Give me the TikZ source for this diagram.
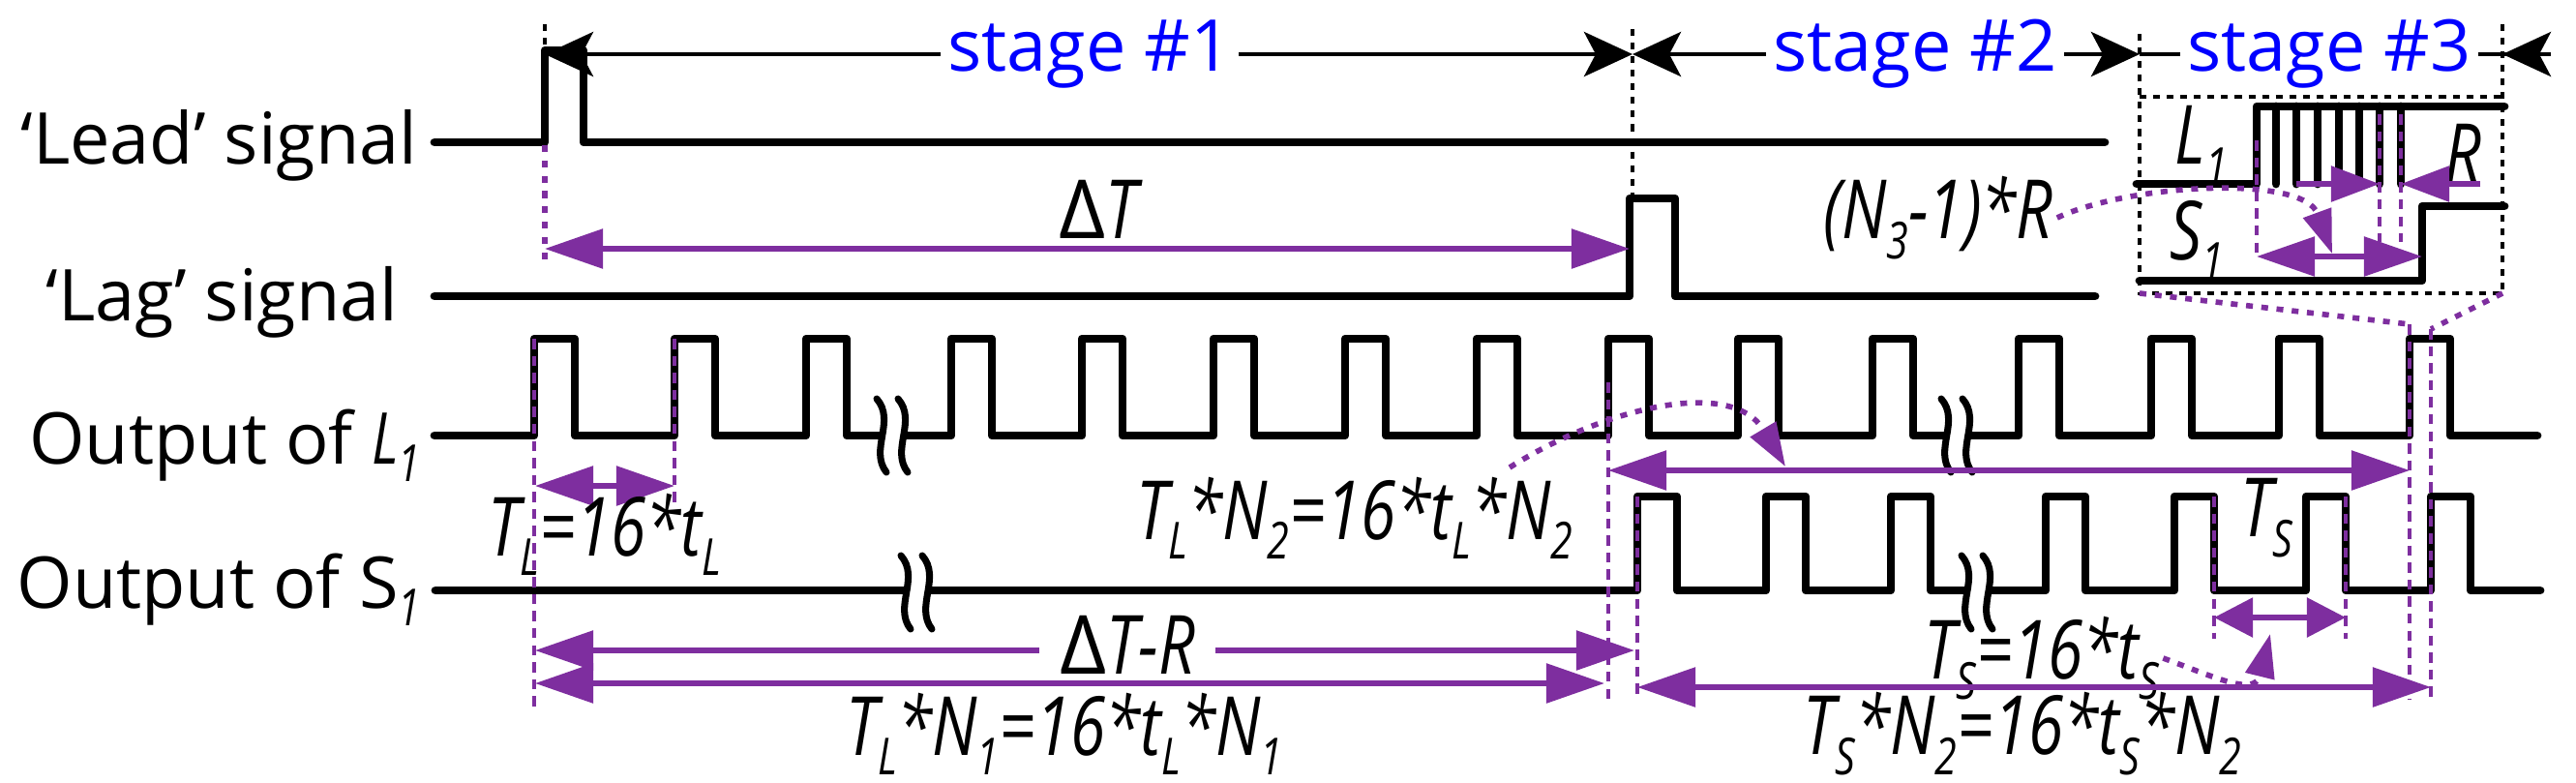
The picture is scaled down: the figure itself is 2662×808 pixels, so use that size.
\documentclass[tikz,border=0pt]{standalone}
\usepackage{fontspec}
\setmainfont{Open Sans}
\usetikzlibrary{arrows.meta}
\definecolor{pur}{RGB}{126,46,159}
\definecolor{stgblue}{RGB}{0,0,255}
\newcommand{\lbl}[1]{\scalebox{0.78}[1]{\itshape #1}}
\newcommand{\sbs}[1]{\raisebox{-0.45ex}{\fontsize{15}{16}\selectfont #1}}
\tikzset{
 sig/.style={line width=2.5pt, line join=round, line cap=round},
 blkdot/.style={line width=1.3pt, dash pattern=on 2pt off 2pt},
 pdash/.style={pur, line width=1pt, dash pattern=on 3pt off 2pt},
 pdot/.style={pur, line width=1.6pt, dash pattern=on 2pt off 2.5pt},
 parr/.style={pur, line width=1.6pt, {Triangle[length=0.6cm,width=0.4cm]}-{Triangle[length=0.6cm,width=0.4cm]}},
 parrs/.style={pur, line width=1.6pt, -{Triangle[length=0.5cm,width=0.36cm]}},
 stg/.style={line width=1.3pt, -{Stealth[length=0.5cm,width=0.46cm,inset=0.12cm]}},
 stext/.style={text=stgblue, font=\fontsize{21}{23}\selectfont, inner sep=2pt},
 sname/.style={font=\fontsize{21}{24}\selectfont, anchor=east, inner sep=0pt},
 mlab/.style={font=\fontsize{24}{26}\selectfont, inner sep=1pt},
}
\newcommand{\brk}[2]{%
 \fill[white] (#1-16,#2-38) .. controls (#1+4,#2-15) and (#1-24,#2+15) .. (#1-6,#2+38)
   -- (#1+16,#2+38) .. controls (#1-2,#2+15) and (#1+26,#2-15) .. (#1+6,#2-38) -- cycle;
 \draw[line width=2pt,line cap=round] (#1-16,#2-38) .. controls (#1+4,#2-15) and (#1-24,#2+15) .. (#1-6,#2+38);
 \draw[line width=2pt,line cap=round] (#1+6,#2-38) .. controls (#1+26,#2-15) and (#1-2,#2+15) .. (#1+16,#2+38);}
\begin{document}
\begin{tikzpicture}[x=0.01cm,y=-0.01cm]
\useasboundingbox (0,0) rectangle (2662,808);
% labels
\node[sname] (lead) at (432,150) {‘Lead’ signal};
\node[sname] (lag) at (412,312) {‘Lag’ signal};
\node[sname] (ol) at (435,460) {Output of \lbl{L\sbs{1}}};
\node[sname] (os) at (435,609) {Output of S\lbl{\sbs{1}}};
% signals
\draw[sig] (449,147) -- (563,147) -- (563,52) -- (603,52) -- (603,147) -- (2175,147);
\draw[sig] (449,306) -- (1684,306) -- (1684,205) -- (1731,205) -- (1731,306) -- (2165,306);
\draw[sig] (449,450) \foreach \r in {552,697,833,983,1118,1254,1390,1526,1662,1796,1935,2086,2223,2355,2490}{ -- (\r,450) -- (\r,350) -- (\r+42,350) -- (\r+42,450)} -- (2622,450);
\draw[sig] (450,610) \foreach \r in {1692,1825,1954,2114,2247,2383,2512}{ -- (\r,610) -- (\r,513) -- (\r+41,513) -- (\r+41,610)} -- (2625,610);
\brk{922}{450} \brk{2022}{450} \brk{947}{612} \brk{2043}{612}
% stage marks
\draw[blkdot] (563,25) -- (563,145);
\draw[blkdot] (1687,30) -- (1687,203);
\draw[blkdot] (2211,35) -- (2211,303) -- (2586,303) -- (2586,25);
\draw[blkdot] (2211,100) -- (2586,100);
\node[stext] (t1) at (1126,56) {stage \#1};
\node[stext] (t2) at (1979,56) {stage \#2};
\node[stext] (t3) at (2407,56) {stage \#3};
\coordinate (s1a) at (563,56); \coordinate (s1b) at (1687,56);
\coordinate (s2b) at (2211,56); \coordinate (s3b) at (2586,56); \coordinate (s3e) at (2636,56);
\draw[stg] (t1.west) -- (s1a); \draw[stg] (t1.east) -- (s1b);
\draw[stg] (t2.west) -- (s1b); \draw[stg] (t2.east) -- (s2b);
\draw[line width=1.3pt] (t3.west) -- (s2b); \draw[line width=1.3pt] (t3.east) -- (s3e);
\draw[stg] (s3e) -- (s3b);
% inset
\draw[sig] (2208,190) -- (2332,190) -- (2332,110) -- (2588,110);
\foreach \b in {2352,2373,2395,2417,2438,2459,2481}{\draw[sig] (\b,110) -- (\b,190);}
\draw[sig] (2211,290) -- (2503,290) -- (2503,213) -- (2588,213);
\node[mlab] (iL) at (2275,150) {\lbl{L\sbs{1}}};
\node[mlab] (iS) at (2270,248) {\lbl{S\sbs{1}}};
\node[mlab] (iR) at (2545,158) {\lbl{R}};
\draw[pdash] (2332,145) -- (2332,265);
\draw[pdash] (2459,118) -- (2459,250);
\draw[pdash] (2481,118) -- (2481,250);
\coordinate (ia) at (2373,190); \coordinate (ib) at (2459,190);
\coordinate (ic) at (2563,190); \coordinate (id) at (2481,190);
\draw[parrs] (ia) -- (ib); \draw[parrs] (ic) -- (id);
\coordinate (iu) at (2332,265); \coordinate (iv) at (2503,265);
\draw[parr] (iu) -- (iv);
\node[mlab] (n3) at (2003,225) {\lbl{(N\sbs{3}-1)*R}};
\coordinate (n3t) at (2410,262);
\draw[pdot, -{Triangle[length=0.45cm,width=0.3cm]}] (n3.east) .. controls (2200,190) and (2380,180) .. (n3t);
% zoom lines
\draw[pdot] (2211,303) -- (2490,335);
\draw[pdot] (2586,303) -- (2512,340);
% delta T
\draw[pdot] (563,150) -- (563,270);
\coordinate (dta) at (563,257); \coordinate (dtb) at (1684,257);
\draw[parr] (dta) -- (dtb);
\node[mlab] (dt) at (1135,216) {Δ\lbl{T}};
% verticals
\draw[pdash] (552,350) -- (552,735);
\draw[pdash] (697,350) -- (697,520);
\draw[pdash] (1662,395) -- (1662,722);
\draw[pdash] (1692,513) -- (1692,722);
\draw[pdash] (2288,513) -- (2288,660);
\draw[pdash] (2424,513) -- (2424,660);
\draw[pdash] (2490,335) -- (2490,722);
\draw[pdash] (2512,340) -- (2512,722);
% T_L
\coordinate (tla) at (553,502); \coordinate (tlb) at (697,502);
\draw[parr] (tla) -- (tlb);
\node[mlab] (tl) at (625,552) {\lbl{T\sbs{L}=16*t\sbs{L}}};
\node[mlab] (tln2) at (1400,535) {\lbl{T\sbs{L}*N\sbs{2}=16*t\sbs{L}*N\sbs{2}}};
\coordinate (tn2a) at (1662,486); \coordinate (tn2b) at (2490,486);
\draw[parr] (tn2a) -- (tn2b);
\coordinate (cst) at (1560,483); \coordinate (cen) at (1845,482);
\draw[pdot, -{Triangle[length=0.45cm,width=0.3cm]}] (cst) .. controls (1660,420) and (1790,390) .. (cen);
% delta T - R and N1
\coordinate (dra) at (553,672); \coordinate (drb) at (1689,672);
\draw[parr] (dra) -- (drb);
\node[mlab, fill=white, inner xsep=6pt] (dr) at (1165,666) {Δ\lbl{T-R}};
\coordinate (n1a) at (553,706); \coordinate (n1b) at (1658,706);
\draw[parr] (n1a) -- (n1b);
\node[mlab] (tln1) at (1100,758) {\lbl{T\sbs{L}*N\sbs{1}=16*t\sbs{L}*N\sbs{1}}};
% T_S
\coordinate (tsa) at (2288,638); \coordinate (tsb) at (2424,638);
\draw[parr, {Triangle[length=0.4cm,width=0.4cm]}-{Triangle[length=0.4cm,width=0.4cm]}] (tsa) -- (tsb);
\node[mlab] (ts) at (2342,535) {\lbl{T\sbs{S}}};
\node[mlab] (ts16) at (2110,680) {\lbl{T\sbs{S}=16*t\sbs{S}}};
\coordinate (tst) at (2346,655);
\draw[pdot, -{Triangle[length=0.45cm,width=0.3cm]}] (ts16.east) .. controls (2290,700) and (2330,720) .. (tst);
\coordinate (sna) at (1692,710); \coordinate (snb) at (2512,710);
\draw[parr] (sna) -- (snb);
\node[mlab] (tsn2) at (2090,758) {\lbl{T\sbs{S}*N\sbs{2}=16*t\sbs{S}*N\sbs{2}}};
\end{tikzpicture}
\end{document}
